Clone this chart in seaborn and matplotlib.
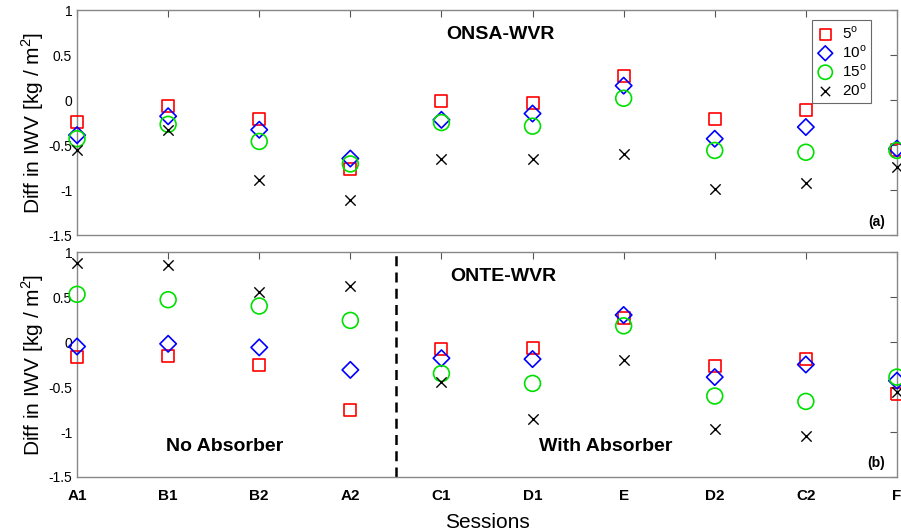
import numpy as np
import pandas as pd
import seaborn as sns
import matplotlib.pyplot as plt

sessions = ["A1", "B1", "B2", "A2", "C1", "D1", "E", "D2", "C2", "F"]
angles = ["5", "10", "15", "20"]

# ONSA-WVR (a)
onsa_5 = [-0.24, -0.07, -0.21, -0.77, -0.01, -0.03, 0.27, -0.21, -0.11, -0.55]
onsa_10 = [-0.39, -0.18, -0.33, -0.65, -0.22, -0.15, 0.16, -0.43, -0.30, -0.54]
onsa_15 = [-0.43, -0.27, -0.46, -0.71, -0.25, -0.29, 0.02, -0.56, -0.58, -0.56]
onsa_20 = [-0.56, -0.33, -0.89, -1.11, -0.66, -0.65, -0.60, -0.99, -0.92, -0.74]

# ONTE-WVR (b)
onte_5 = [-0.17, -0.16, -0.26, -0.76, -0.08, -0.07, 0.27, -0.27, -0.19, -0.58]
onte_10 = [-0.05, -0.02, -0.06, -0.31, -0.18, -0.19, 0.30, -0.39, -0.25, -0.43]
onte_15 = [0.53, 0.47, 0.40, 0.24, -0.35, -0.46, 0.18, -0.60, -0.66, -0.39]
onte_20 = [0.88, 0.86, 0.56, 0.62, -0.44, -0.85, -0.20, -0.97, -1.04, -0.56]

sns.set_style("white")
plt.rcParams['font.family'] = ['Liberation Sans', 'DejaVu Sans']
plt.rcParams['mathtext.fontset'] = 'custom'
plt.rcParams['mathtext.rm'] = 'Liberation Sans'
for k in ['text.color', 'axes.labelcolor', 'xtick.labelcolor', 'ytick.labelcolor']:
    plt.rcParams[k] = 'black'

fig = plt.figure(figsize=(9.01, 5.31), dpi=100)
ax1 = fig.add_axes([0.0855, 0.5574, 0.91, 0.4236])
ax2 = fig.add_axes([0.0855, 0.1017, 0.91, 0.4237])

styles = [("s", "red", 75), ("D", "blue", 70), ("o", "#00e000", 130), ("x", "black", 55)]
pos = np.arange(len(sessions))


def draw(ax, series):
    for ang, vals, (mk, col, sz) in zip(angles, series, styles):
        lab = ang + r"$^\mathrm{o}$"
        if mk == "x":
            sns.scatterplot(x=pos, y=vals, marker=mk, s=sz, color=col,
                            linewidth=1.0, ax=ax, label=lab, clip_on=False, zorder=3)
        else:
            sns.scatterplot(x=pos, y=vals, marker=mk, s=sz, facecolor="none",
                            edgecolor=col, linewidth=1.2, ax=ax, label=lab,
                            clip_on=False, zorder=3)
    ax.set_xlim(0, len(sessions) - 1)
    ax.set_ylim(-1.5, 1)
    ax.set_yticks([-1.5, -1, -0.5, 0, 0.5, 1])
    ax.set_yticklabels(["-1.5", "-1", "-0.5", "0", "0.5", "1"])
    ax.set_xticks(pos)
    ax.tick_params(direction="in", length=5, top=True, right=True,
                   labelsize=10, color="#555555", width=0.8)
    for sp in ax.spines.values():
        sp.set_color("#888888")
        sp.set_linewidth(1.0)
    ax.set_ylabel("Diff in IWV [kg / m$^2$]", fontsize=15, labelpad=2)


draw(ax1, [onsa_5, onsa_10, onsa_15, onsa_20])
draw(ax2, [onte_5, onte_10, onte_15, onte_20])

ax1.set_xticklabels([])
ax2.set_xticklabels(sessions, fontsize=11, fontweight="bold")
ax2.tick_params(axis="x", pad=9)
ax2.set_xlabel("Sessions", fontsize=15, labelpad=7)

leg = ax1.legend(loc="upper right", bbox_to_anchor=(0.978, 0.99), fontsize=11,
                 frameon=True, fancybox=False, edgecolor="#444444",
                 handletextpad=0.5, borderpad=0.3, labelspacing=0.15,
                 handlelength=1.2, markerscale=0.9)
leg.get_frame().set_linewidth(0.8)
ax2.get_legend().remove()

ax1.text(0.516, 0.89, "ONSA-WVR", transform=ax1.transAxes, ha="center",
         va="center", fontsize=14, fontweight="bold")
ax2.text(0.52, 0.89, "ONTE-WVR", transform=ax2.transAxes, ha="center",
         va="center", fontsize=14, fontweight="bold")
ax1.text(0.975, 0.06, "(a)", transform=ax1.transAxes, ha="center",
         va="center", fontsize=10, fontweight="bold")
ax2.text(0.975, 0.06, "(b)", transform=ax2.transAxes, ha="center",
         va="center", fontsize=10, fontweight="bold")
ax2.text(0.18, 0.135, "No Absorber", transform=ax2.transAxes, ha="center",
         va="center", fontsize=14, fontweight="bold")
ax2.text(0.645, 0.135, "With Absorber", transform=ax2.transAxes, ha="center",
         va="center", fontsize=14, fontweight="bold")

ax2.axvline(3.5, color="black", linestyle="--", linewidth=1.8, dashes=(4, 2.5))

fig.savefig("out.png", dpi=100)
